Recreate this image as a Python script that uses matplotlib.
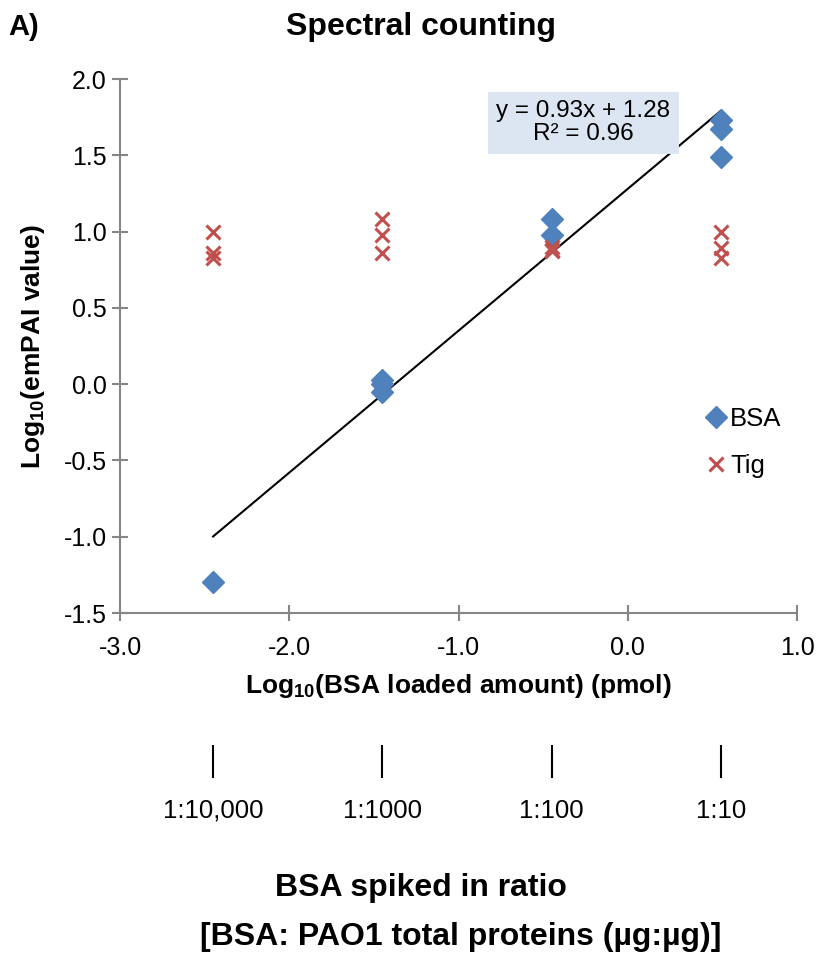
import numpy as np
import matplotlib
matplotlib.use("Agg")
import matplotlib.pyplot as plt

plt.rcParams['font.family'] = ['Liberation Sans', 'DejaVu Sans']
plt.rcParams['mathtext.fontset'] = 'custom'
plt.rcParams['mathtext.rm'] = 'Liberation Sans'
plt.rcParams['mathtext.bf'] = 'Liberation Sans:bold'
plt.rcParams['axes.unicode_minus'] = False

# Data
bsa_x = [-2.45, -1.45, -1.45, -1.45, -0.45, -0.45, 0.55, 0.55, 0.55]
bsa_y = [-1.30, 0.03, 0.00, -0.05, 1.08, 0.98, 1.73, 1.67, 1.49]
tig_x = [-2.45, -2.45, -2.45, -1.45, -1.45, -1.45, -0.45, -0.45, -0.45, 0.55, 0.55, 0.55]
tig_y = [1.00, 0.86, 0.83, 1.08, 0.98, 0.86, 0.90, 0.88, 0.87, 1.00, 0.89, 0.83]
slope = 0.93
intercept = 1.28
ratio_x = [-2.45, -1.45, -0.45, 0.55]
ratio_labels = ["1:10,000", "1:1000", "1:100", "1:10"]

fig = plt.figure(figsize=(8.22, 9.55), dpi=100)
W, H = 822, 955
ax = fig.add_axes([120 / W, 1 - 613 / H, 677 / W, 534 / H])

blue = '#4F81BD'
red = '#C0504D'
gray = '#868686'

ax.plot(bsa_x, bsa_y, 'D', color=blue, markersize=11, label='BSA', zorder=3)
ax.plot(tig_x, tig_y, 'x', color=red, markersize=10.5, markeredgewidth=2.2, label='Tig', zorder=3)

# Trendline
fit_x = np.array([min(bsa_x), max(bsa_x)])
ax.plot(fit_x, slope * fit_x + intercept, color='black', linewidth=1.5, zorder=2)

ax.set_xlim(-3.0, 1.0)
ax.set_ylim(-1.5, 2.0)
ax.set_xticks(np.arange(-3.0, 1.01, 1.0))
ax.set_yticks(np.arange(-1.5, 2.01, 0.5))
ax.set_xticklabels([f"{v:.1f}" for v in np.arange(-3.0, 1.01, 1.0)])
ax.set_yticklabels([f"{v:.1f}" for v in np.arange(-1.5, 2.01, 0.5)])
ax.tick_params(labelsize=18, direction='inout', length=11, color=gray, width=1.5, pad=4)
ax.tick_params(axis='x', pad=11)
for s in ['top', 'right']:
    ax.spines[s].set_visible(False)
for s in ['left', 'bottom']:
    ax.spines[s].set_color(gray)
    ax.spines[s].set_linewidth(1.5)

ax.set_xlabel(r"Log$_{\mathbf{10}}$(BSA loaded amount) (pmol)", fontsize=19,
              fontweight='bold', labelpad=9)
ax.set_ylabel(r"Log$_{\mathbf{10}}$(emPAI value)", fontsize=19,
              fontweight='bold', labelpad=12)

ax.text(0.684, 0.918, f"y = {slope}x + {intercept}\nR² = 0.96", transform=ax.transAxes,
        ha='center', va='center', fontsize=17.5, linespacing=1.05,
        bbox=dict(boxstyle='square,pad=0.35', facecolor='#DCE6F2', edgecolor='none'))

ax.legend(loc='upper left', bbox_to_anchor=(0.846, 0.405), frameon=False, fontsize=18.5,
          handletextpad=0.05, labelspacing=0.9, handlelength=1.0, borderaxespad=0)

fig.text(421 / W, 1 - 27 / H, "Spectral counting", ha='center', va='center',
         fontsize=23, fontweight='bold')
fig.text(8 / W, 1 - 27 / H, "A)", ha='left', va='center', fontsize=21, fontweight='bold')

# Ratio axis
ax2 = fig.add_axes([120 / W, 1 - 778 / H, 677 / W, 0.001])
ax2.set_xlim(-3.0, 1.0)
ax2.set_ylim(0, 1)
ax2.set_yticks([])
ax2.set_xticks(ratio_x)
ax2.set_xticklabels(ratio_labels)
ax2.tick_params(axis='x', direction='in', length=24, width=1.5, color='black',
                labelsize=18.5, pad=15)
for s in ax2.spines.values():
    s.set_visible(False)
ax2.patch.set_visible(False)

fig.text(421 / W, 1 - 888 / H, "BSA spiked in ratio", ha='center', va='center',
         fontsize=23, fontweight='bold')
fig.text(461 / W, 1 - 937 / H, "[BSA: PAO1 total proteins (µg:µg)]", ha='center',
         va='center', fontsize=23, fontweight='bold')

fig.savefig("out.png", dpi=100)
